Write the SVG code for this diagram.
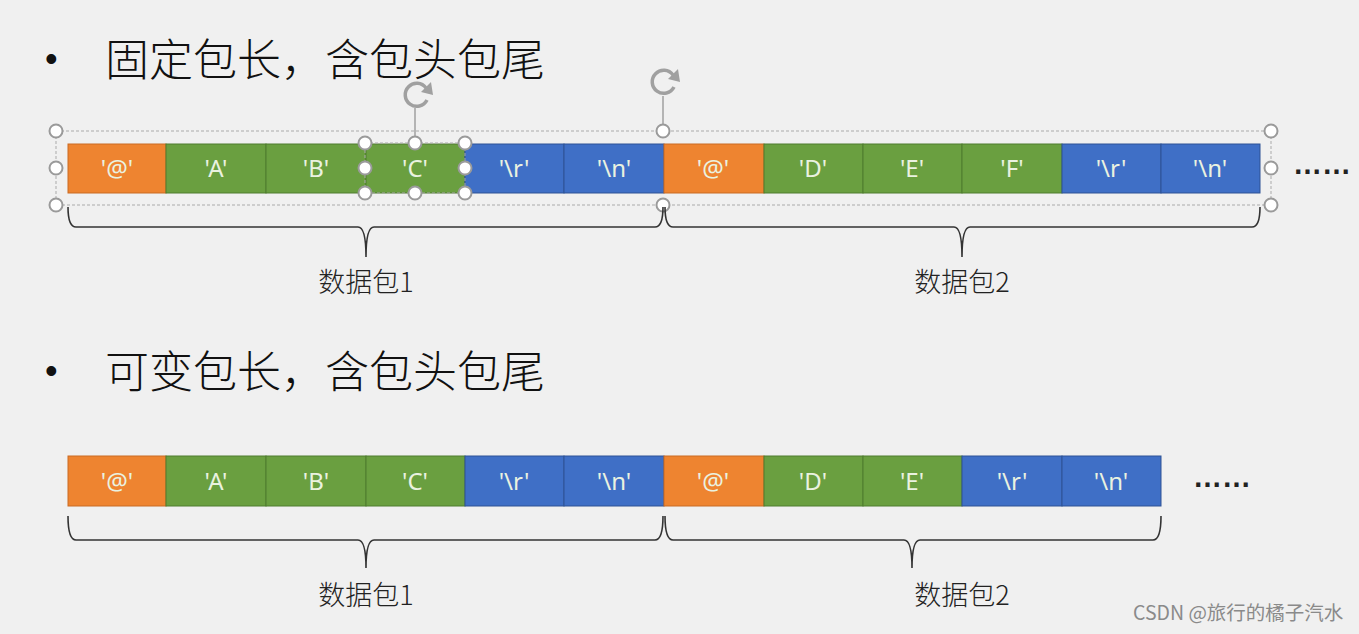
<svg xmlns="http://www.w3.org/2000/svg" width="1359" height="634" viewBox="0 0 1359 634">
<defs>
<style>
.title{font-family:"Noto Sans CJK SC","Noto Sans",sans-serif;font-size:44px;font-weight:300;fill:#111}
.bullet{font-family:"Liberation Sans",sans-serif;font-size:36px;fill:#111}
.o{fill:#EE8430;stroke:#C96A22;stroke-width:1}
.g{fill:#6A9F40;stroke:#4E7C2E;stroke-width:1}
.b{fill:#3F6FC6;stroke:#2E5395;stroke-width:1}
.ct{font-family:"Noto Sans",sans-serif;font-size:24px;fill:#EAF2E0;text-anchor:middle}
.lbl{font-family:"Noto Sans CJK SC","Noto Sans",sans-serif;font-size:27px;font-weight:300;fill:#222;text-anchor:middle}
.brace{fill:none;stroke:#333;stroke-width:1.6}
.dots{font-family:"Liberation Sans",sans-serif;font-size:29px;font-weight:bold;fill:#222}
.sel{fill:none;stroke:#AAA;stroke-width:1;stroke-dasharray:3 2}
.h{fill:#FFF;stroke:#9A9A9A;stroke-width:2}
.rot{fill:none;stroke:#A0A0A0;stroke-width:3.5}
.wm{font-family:"Noto Sans CJK SC","Liberation Sans",sans-serif;font-size:19.5px;fill:#8A8A8A}
</style>
<g id="handle"><circle r="6.5" class="h"/></g>
<g id="rotate">
<path class="rot" d="M 9 -7 A 11.5 11.5 0 1 0 10 5"/>
<path fill="#A0A0A0" d="M 4 -3 L 14 -13 L 16 0 Z"/>
</g>
</defs>
<rect width="1359" height="634" fill="#F0F0F0"/>

<g id="title1">
<text class="bullet" x="45" y="71">•</text>
<text class="title" x="105" y="76">固定包长，<tspan x="325">含包头包尾</tspan></text>
</g>

<g id="row1">
<rect class="o" x="68" y="144" width="98" height="49"/><text class="ct" x="117" y="177">'@'</text>
<rect class="g" x="166" y="144" width="100" height="49"/><text class="ct" x="216" y="177">'A'</text>
<rect class="g" x="266" y="144" width="100" height="49"/><text class="ct" x="316" y="177">'B'</text>
<rect class="g" x="366" y="144" width="99" height="49"/><text class="ct" x="415" y="177">'C'</text>
<rect class="b" x="465" y="144" width="99" height="49"/><text class="ct" x="514" y="177">'\r'</text>
<rect class="b" x="564" y="144" width="100" height="49"/><text class="ct" x="614" y="177">'\n'</text>
<rect class="o" x="664" y="144" width="100" height="49"/><text class="ct" x="713" y="177">'@'</text>
<rect class="g" x="764" y="144" width="99" height="49"/><text class="ct" x="813" y="177">'D'</text>
<rect class="g" x="863" y="144" width="99" height="49"/><text class="ct" x="912" y="177">'E'</text>
<rect class="g" x="962" y="144" width="100" height="49"/><text class="ct" x="1012" y="177">'F'</text>
<rect class="b" x="1062" y="144" width="99" height="49"/><text class="ct" x="1111" y="177">'\r'</text>
<rect class="b" x="1161" y="144" width="99" height="49"/><text class="ct" x="1210" y="177">'\n'</text>
<text class="dots" x="1293" y="174">……</text>
</g>

<g id="selection">
<rect class="sel" x="56" y="131" width="1215" height="74"/>
<line x1="663" y1="96" x2="663" y2="131" stroke="#A0A0A0" stroke-width="1.5"/>
<use href="#rotate" x="664" y="82"/>
<use href="#handle" x="56" y="131"/><use href="#handle" x="56" y="168"/><use href="#handle" x="56" y="205"/>
<use href="#handle" x="663" y="131"/><use href="#handle" x="663" y="205"/>
<use href="#handle" x="1271" y="131"/><use href="#handle" x="1271" y="168"/><use href="#handle" x="1271" y="205"/>
<rect class="sel" x="365" y="143" width="100" height="50" stroke="#777"/>
<line x1="415" y1="108" x2="415" y2="143" stroke="#A0A0A0" stroke-width="1.5"/>
<use href="#rotate" x="417" y="95"/>
<use href="#handle" x="365" y="143"/><use href="#handle" x="415" y="143"/><use href="#handle" x="465" y="143"/>
<use href="#handle" x="365" y="168"/><use href="#handle" x="465" y="168"/>
<use href="#handle" x="365" y="193"/><use href="#handle" x="415" y="193"/><use href="#handle" x="465" y="193"/>
</g>

<g id="braces1">
<path class="brace" d="M 68 207 Q 68 227 76 227 L 358 227 Q 366 227 366 257 Q 366 227 374 227 L 655 227 Q 663 227 663 207"/>
<path class="brace" d="M 665 207 Q 665 227 673 227 L 954 227 Q 962 227 962 257 Q 962 227 970 227 L 1252 227 Q 1260 227 1260 207"/>
<text class="lbl" x="366" y="292">数据包1</text>
<text class="lbl" x="962" y="292">数据包2</text>
</g>

<g id="title2">
<text class="bullet" x="45" y="383">•</text>
<text class="title" x="105" y="388">可变包长，<tspan x="325">含包头包尾</tspan></text>
</g>

<g id="row2">
<rect class="o" x="68" y="456" width="98" height="50"/><text class="ct" x="117" y="490">'@'</text>
<rect class="g" x="166" y="456" width="100" height="50"/><text class="ct" x="216" y="490">'A'</text>
<rect class="g" x="266" y="456" width="100" height="50"/><text class="ct" x="316" y="490">'B'</text>
<rect class="g" x="366" y="456" width="99" height="50"/><text class="ct" x="415" y="490">'C'</text>
<rect class="b" x="465" y="456" width="99" height="50"/><text class="ct" x="514" y="490">'\r'</text>
<rect class="b" x="564" y="456" width="100" height="50"/><text class="ct" x="614" y="490">'\n'</text>
<rect class="o" x="664" y="456" width="100" height="50"/><text class="ct" x="713" y="490">'@'</text>
<rect class="g" x="764" y="456" width="99" height="50"/><text class="ct" x="813" y="490">'D'</text>
<rect class="g" x="863" y="456" width="99" height="50"/><text class="ct" x="912" y="490">'E'</text>
<rect class="b" x="962" y="456" width="100" height="50"/><text class="ct" x="1012" y="490">'\r'</text>
<rect class="b" x="1062" y="456" width="99" height="50"/><text class="ct" x="1111" y="490">'\n'</text>
<text class="dots" x="1193" y="487">……</text>
</g>

<g id="braces2">
<path class="brace" d="M 68 516 Q 68 540 76 540 L 358 540 Q 366 540 366 568 Q 366 540 374 540 L 655 540 Q 663 540 663 516"/>
<path class="brace" d="M 665 516 Q 665 540 673 540 L 904 540 Q 912 540 912 568 Q 912 540 920 540 L 1153 540 Q 1161 540 1161 516"/>
<text class="lbl" x="366" y="605">数据包1</text>
<text class="lbl" x="962" y="605">数据包2</text>
</g>

<text class="wm" x="1133" y="620">CSDN @旅行的橘子汽水</text>
</svg>
